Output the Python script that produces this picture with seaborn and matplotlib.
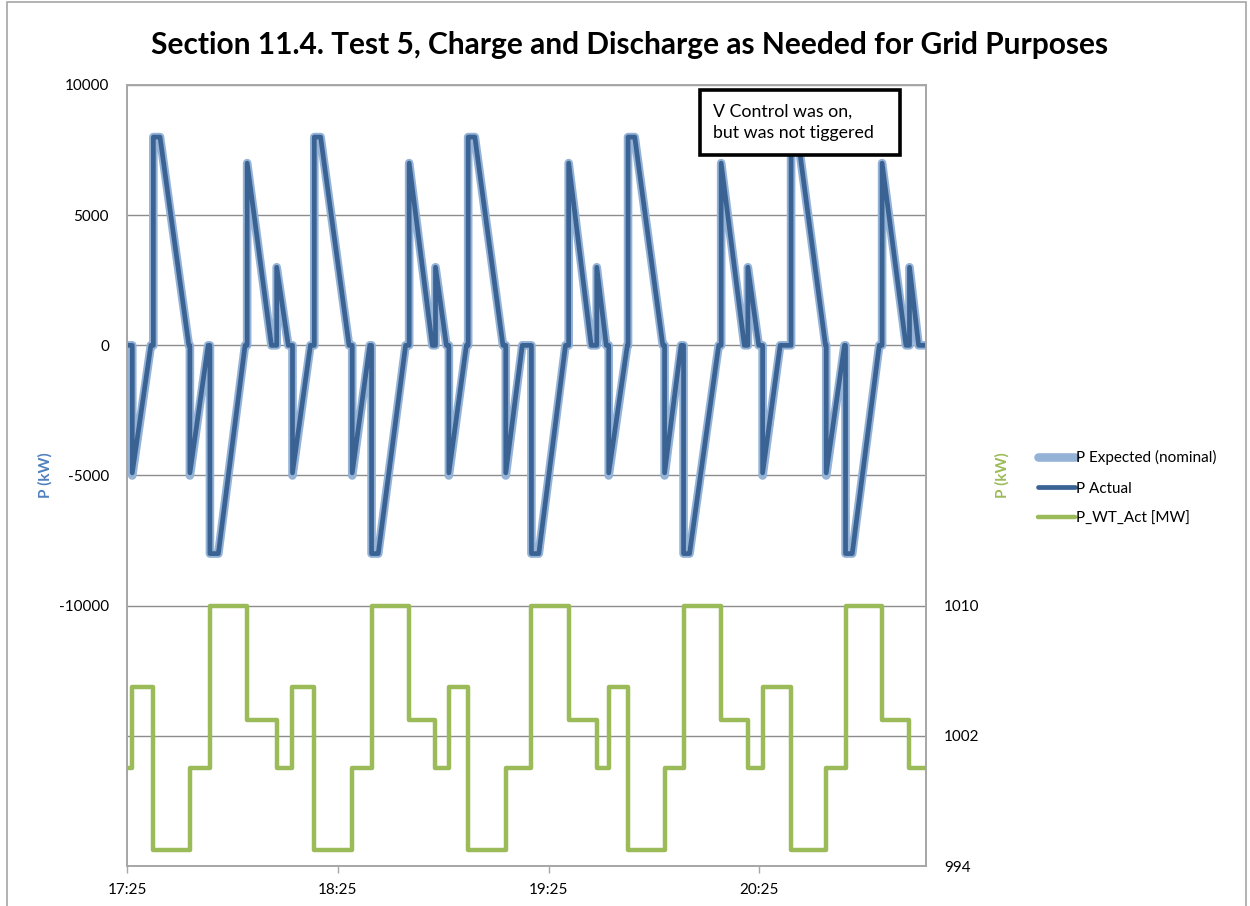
import matplotlib
matplotlib.use("Agg")
import matplotlib.pyplot as plt
import seaborn as sns
from matplotlib.patches import Rectangle
from matplotlib.ticker import FixedLocator, FixedFormatter

sns.set_theme(style="white")
plt.rcParams['font.family'] = ['Lato', 'DejaVu Sans']
plt.rcParams['text.color'] = 'black'

# Time axis: minutes after 17:25
time_ticks = [0, 60, 120, 180]
time_labels = ["17:25", "18:25", "19:25", "20:25"]

# Wind turbine power steps (right axis)
t_wt = [0, 1.5, 7.5, 17.9, 23.6, 34.2, 42.6, 47.1, 53.3, 64.1, 69.6, 80.3,
        87.8, 91.6, 97.1, 107.8, 115.1, 125.7, 133.7, 137.1, 142.6, 153.0,
        158.4, 169.1, 176.7, 180.9, 189.0, 199.0, 204.5, 214.9, 222.7, 227.4]
p_wt = [1000, 1005, 995, 1000, 1010, 1003, 1000, 1005, 995, 1000, 1010, 1003,
        1000, 1005, 995, 1000, 1010, 1003, 1000, 1005, 995, 1000,
        1010, 1003, 1000, 1005, 995, 1000, 1010, 1003, 1000, 1000]

# Battery power (left axis)
t_p = [0, 1.5, 1.5, 6.8,
       7.5, 7.5, 9.4, 17.6,
       17.9, 17.9, 23.1,
       23.6, 23.6, 26.0, 33.6,
       34.2, 34.2, 41.1,
       42.6, 42.6, 45.9,
       47.1, 47.1, 52.2,
       53.3, 53.3, 55.1, 63.2,
       64.1, 64.1, 69.1,
       69.6, 69.6, 71.5, 79.3,
       80.3, 80.3, 86.9,
       87.8, 87.8, 90.9,
       91.6, 91.6, 96.6,
       97.1, 97.1, 99.0, 107.0,
       107.8, 107.8, 112.5,
       115.1, 115.1, 117.2, 124.8,
       125.7, 125.7, 132.1,
       133.7, 133.7, 136.4,
       137.1, 137.1, 142.4,
       142.6, 142.6, 144.5, 152.5,
       153.0, 153.0, 157.7,
       158.4, 158.4, 160.1, 168.4,
       169.1, 169.1, 175.7,
       176.7, 176.7, 179.8,
       180.9, 180.9, 185.9,
       189.0, 189.0, 190.9, 198.8,
       199.0, 199.0, 204.2,
       204.5, 204.5, 206.4, 214.1,
       214.9, 214.9, 221.7,
       222.7, 222.7, 225.3,
       227.4]

p_expected = [0, 0, -5000, 0,
              0, 8000, 8000, 0,
              0, -5000, 0,
              0, -8000, -8000, 0,
              0, 7000, 0,
              0, 3000, 0,
              0, -5000, 0,
              0, 8000, 8000, 0,
              0, -5000, 0,
              0, -8000, -8000, 0,
              0, 7000, 0,
              0, 3000, 0,
              0, -5000, 0,
              0, 8000, 8000, 0,
              0, -5000, 0,
              0, -8000, -8000, 0,
              0, 7000, 0,
              0, 3000, 0,
              0, -5000, 0,
              0, 8000, 8000, 0,
              0, -5000, 0,
              0, -8000, -8000, 0,
              0, 7000, 0,
              0, 3000, 0,
              0, -5000, 0,
              0, 8000, 8000, 0,
              0, -5000, 0,
              0, -8000, -8000, 0,
              0, 7000, 0,
              0, 3000, 0,
              0]

p_actual = [0, 0, -4900, 0,
            0, 8000, 8000, 0,
            0, -4900, 0,
            0, -8000, -8000, 0,
            0, 7000, 0,
            0, 3000, 0,
            0, -4900, 0,
            0, 8000, 8000, 0,
            0, -4900, 0,
            0, -8000, -8000, 0,
            0, 7000, 0,
            0, 3000, 0,
            0, -4900, 0,
            0, 8000, 8000, 0,
            0, -4900, 0,
            0, -8000, -8000, 0,
            0, 7000, 0,
            0, 3000, 0,
            0, -4900, 0,
            0, 8000, 8000, 0,
            0, -4900, 0,
            0, -8000, -8000, 0,
            0, 7000, 0,
            0, 3000, 0,
            0, -4900, 0,
            0, 8000, 8000, 0,
            0, -4900, 0,
            0, -8000, -8000, 0,
            0, 7000, 0,
            0, 3000, 0,
            0]

left_ticks = [-15000, -10000, -5000, 0, 5000, 10000]
left_labels = ["", "-10000", "-5000", "0", "5000", "10000"]
right_ticks = [994, 1002, 1010]
right_labels = ["994", "1002", "1010"]

C_EXP = "#95B3D7"
C_ACT = "#3A6393"
C_WT = "#9BBB59"
C_GRID = "#8C8C8C"
C_SPINE = "#A6A6A6"

fig = plt.figure(figsize=(12.5, 9.06), dpi=100)
ax = fig.add_axes([127 / 1250, 1 - 866 / 906, 799 / 1250, 781 / 906])
ax2 = ax.twinx()

sns.lineplot(x=t_p, y=p_expected, ax=ax, sort=False, estimator=None,
             color=C_EXP, lw=6.2, solid_capstyle="round",
             solid_joinstyle="round", label="P Expected (nominal)", legend=False)
sns.lineplot(x=t_p, y=p_actual, ax=ax, sort=False, estimator=None,
             color=C_ACT, lw=3.4, solid_joinstyle="round",
             label="P Actual", legend=False)
sns.lineplot(x=t_wt, y=p_wt, ax=ax2, sort=False, estimator=None,
             drawstyle="steps-post", color=C_WT, lw=3.2,
             label="P_WT_Act [MW]", legend=False)

ax.set_xlim(0, 227.4)
ax.set_ylim(-20000, 10000)
ax2.set_ylim(994, 1042)

ax.yaxis.set_major_locator(FixedLocator(left_ticks))
ax.yaxis.set_major_formatter(FixedFormatter(left_labels))
ax2.yaxis.set_major_locator(FixedLocator(right_ticks))
ax2.yaxis.set_major_formatter(FixedFormatter(right_labels))
ax.xaxis.set_major_locator(FixedLocator(time_ticks))
ax.xaxis.set_major_formatter(FixedFormatter(time_labels))

ax.grid(axis="y", color=C_GRID, lw=1.0)
ax.grid(axis="x", visible=False)
ax2.grid(False)

for a in (ax, ax2):
    for s in a.spines.values():
        s.set_color(C_SPINE)
        s.set_linewidth(1.2)

ax.tick_params(axis="y", length=0, pad=13, labelsize=11, labelcolor="black")
ax2.tick_params(axis="y", length=0, pad=13, labelsize=11, labelcolor="black")
ax.tick_params(axis="x", length=5, width=1, color=C_SPINE, direction="out",
               pad=7, labelsize=11, labelcolor="black", bottom=True)

ax.set_xlabel("")
ax.set_ylabel("P (kW)", color="#4F81BD", fontsize=11, fontweight="bold")
ax.yaxis.set_label_coords(-0.0926, 0.5)
ax2.set_ylabel("P (kW)", color=C_WT, fontsize=11, fontweight="bold")
ax2.yaxis.set_label_coords(1.0866, 0.5)

fig.suptitle("Section 11.4. Test 5, Charge and Discharge as Needed for Grid Purposes",
             x=630 / 1250, y=1 - 45 / 906, va="center", fontsize=21.5,
             fontweight="bold", color="black")

# Note box
ax2.add_patch(Rectangle((0.7172, 0.9104), 0.2503, 0.0832,
                        transform=ax2.transAxes, fc="white", ec="black",
                        lw=2.6, zorder=9, clip_on=False))
ax2.text(0.7334, 0.952, "V Control was on,\nbut was not tiggered",
         transform=ax2.transAxes, ha="left", va="center", color="black",
         multialignment="left", fontsize=12.8, linespacing=1.4, zorder=10)

handles = ax.get_lines() + ax2.get_lines()
leg = fig.legend(handles=handles, labels=[h.get_label() for h in handles],
                 loc="center left", bbox_to_anchor=(1038 / 1250, 1 - 488 / 906),
                 frameon=False, fontsize=11, handlelength=2.4, handletextpad=0.1,
                 labelspacing=1.05, borderpad=0, borderaxespad=0)
for txt in leg.get_texts():
    txt.set_color("black")

fig.patches.append(Rectangle((7 / 1250, -0.01), 1239 / 1250, 1 - 2 / 906 + 0.01,
                             transform=fig.transFigure, fill=False,
                             ec=C_SPINE, lw=1.2))

fig.savefig("out.png", dpi=100, facecolor="white")
